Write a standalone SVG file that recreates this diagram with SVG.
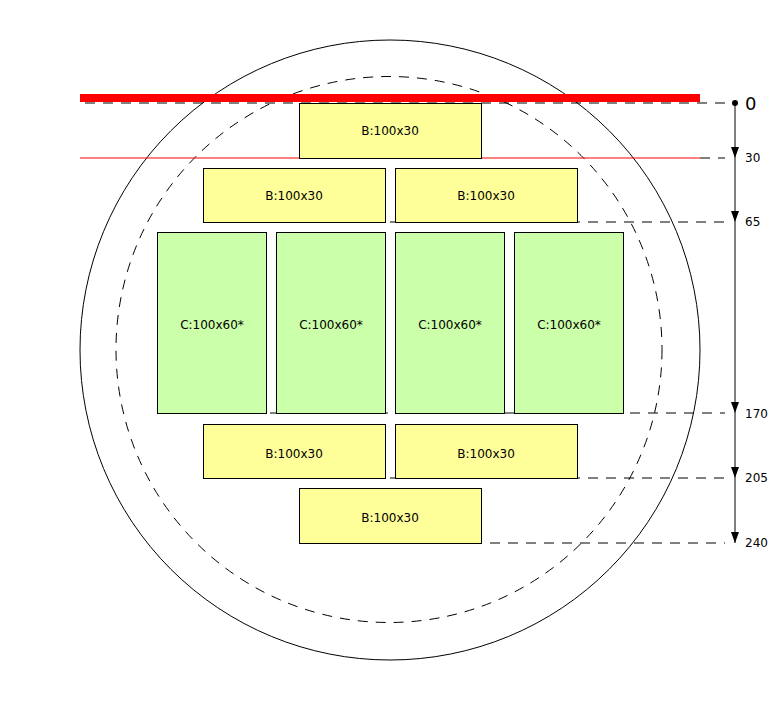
<svg xmlns="http://www.w3.org/2000/svg" width="781" height="701" viewBox="0 0 781 701">
<style>
text{font-family:"DejaVu Sans",sans-serif;font-size:12px;fill:#000}
.b{fill:#ffff99;stroke:#000;stroke-width:1}
.c{fill:#ccffaa;stroke:#000;stroke-width:1}
.d{stroke:#000;stroke-dasharray:10,8;fill:none}
.lbl{text-anchor:middle}
</style>
<defs><marker id="a" markerWidth="10" markerHeight="12" refX="5" refY="10" orient="auto" markerUnits="userSpaceOnUse"><path d="M1,0 L9,0 L5,10 Z" fill="#000" transform="rotate(-90 5 5)"/></marker>
<marker id="ad" viewBox="0 0 10 12" markerWidth="10" markerHeight="12" refX="5" refY="12" markerUnits="userSpaceOnUse"><path d="M1,0 L9,0 L5,12 Z" fill="#000"/></marker></defs>
<circle cx="390" cy="350" r="310" fill="none" stroke="#000"/>
<circle cx="389" cy="349.5" r="273" class="d" stroke-dasharray="8,8"/>
<g id="connectors">
<line class="d" x1="85" y1="103" x2="725" y2="103"/>
<line class="d" x1="700" y1="158" x2="725" y2="158"/>
<line class="d" x1="390" y1="222" x2="725" y2="222"/>
<line class="d" x1="270" y1="413" x2="725" y2="413"/>
<line class="d" x1="390" y1="478" x2="725" y2="478"/>
<line class="d" x1="490" y1="543" x2="725" y2="543"/>
<line x1="735" y1="103" x2="735" y2="543" stroke="#000"/>
<circle cx="735" cy="103" r="3" fill="#000"/>
<path d="M731,147 L739,147 L735,158 Z M731,211 L739,211 L735,222 Z M731,402 L739,402 L735,413 Z M731,467 L739,467 L735,478 Z M731,532 L739,532 L735,543 Z" fill="#000"/>
</g>
<rect x="80" y="94" width="620" height="8" fill="#ff0000"/>
<line x1="80" y1="158" x2="700" y2="158" stroke="#ff0000"/>
<g id="b1"><rect class="b" x="299.5" y="103.5" width="182" height="55"/><text class="lbl" x="390" y="135">B:100x30</text></g>
<g id="b2"><rect class="b" x="203.5" y="168.5" width="182" height="54"/><text class="lbl" x="294" y="200">B:100x30</text></g>
<g id="b3"><rect class="b" x="395.5" y="168.5" width="182" height="54"/><text class="lbl" x="486" y="200">B:100x30</text></g>
<g id="c1"><rect class="c" x="157.5" y="232.5" width="109" height="181"/><text class="lbl" x="212" y="329">C:100x60*</text></g>
<g id="c2"><rect class="c" x="276.5" y="232.5" width="109" height="181"/><text class="lbl" x="331" y="329">C:100x60*</text></g>
<g id="c3"><rect class="c" x="395.5" y="232.5" width="109" height="181"/><text class="lbl" x="450" y="329">C:100x60*</text></g>
<g id="c4"><rect class="c" x="514.5" y="232.5" width="109" height="181"/><text class="lbl" x="569" y="329">C:100x60*</text></g>
<g id="b4"><rect class="b" x="203.5" y="424.5" width="182" height="54"/><text class="lbl" x="294" y="458">B:100x30</text></g>
<g id="b5"><rect class="b" x="395.5" y="424.5" width="182" height="54"/><text class="lbl" x="486" y="458">B:100x30</text></g>
<g id="b6"><rect class="b" x="299.5" y="488.5" width="182" height="55"/><text class="lbl" x="390" y="522">B:100x30</text></g>
<text x="745" y="110" style="font-size:18px">0</text>
<text x="745" y="162">30</text>
<text x="745" y="226">65</text>
<text x="745" y="418">170</text>
<text x="745" y="482">205</text>
<text x="745" y="547">240</text>
</svg>
